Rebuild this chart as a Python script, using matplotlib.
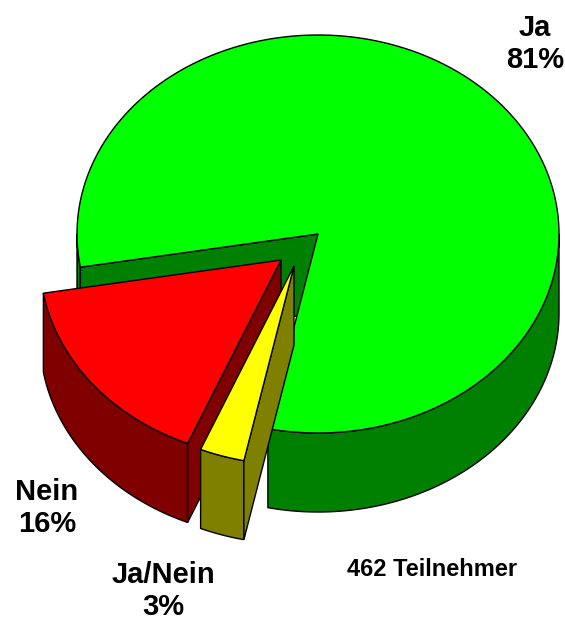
import numpy as np
import matplotlib
matplotlib.use('Agg')
from matplotlib import pyplot as plt
from matplotlib.patches import Polygon

# Данные
labels = ['Ja', 'Nein', 'Ja/Nein']
values = [81, 16, 3]
top_colors = ['#00ff00', '#ff0000', '#ffff00']
side_colors = ['#008000', '#800000', '#808000']
note = '462 Teilnehmer'

# Геометрия пирога в пикселях
cx, cy = 318, 234
rx, ry = 241, 199
depth = 79
start = 258
# смещение секторов
shifts = [(0, 0), (-37, 26), (-24, 32)]

fig = plt.figure(figsize=(5.65, 6.28), dpi=100)
ax = fig.add_axes([0, 0, 1, 1])
ax.set_xlim(0, 565)
ax.set_ylim(628, 0)
ax.axis('off')


def arc(a0, a1, x0, y0):
    t = np.radians(np.linspace(a0, a1, 300))
    return np.column_stack([x0 + rx * np.cos(t), y0 - ry * np.sin(t)])


def draw(a0, a1, shift, top, side):
    x0, y0 = cx + shift[0], cy + shift[1]
    down = np.array([0, depth])
    # внешняя стенка (только передняя часть)
    for w0, w1 in [(a0, a1), (a0 - 360, a1 - 360)]:
        lo, hi = max(w0, 180), min(w1, 360)
        if hi > lo:
            wall = arc(lo, hi, x0, y0)
            ax.add_patch(Polygon(np.vstack([wall, wall[::-1] + down]), fc=side, ec='black', lw=1, zorder=z[0]))
    # срез, обращенный к зрителю
    edge = arc(a1, a1, x0, y0)[0]
    if np.sin(np.radians(a1 + 90)) < 0:
        apex = np.array([x0, y0])
        face = np.array([apex, edge, edge + down, apex + down])
        ax.add_patch(Polygon(face, fc=side, ec='black', lw=1, zorder=z[0]))
    # верхняя грань
    pts = np.vstack([[x0, y0], arc(a0, a1, x0, y0)])
    ax.add_patch(Polygon(pts, fc=top, ec='black', lw=1, zorder=z[0] + 0.5))


sizes = np.array(values) / sum(values) * 360
angle = start
for i in range(len(values)):
    z = [i + 1]
    draw(angle, angle + sizes[i], shifts[i], top_colors[i], side_colors[i])
    angle = (angle + sizes[i]) % 360

font = {'family': ['Liberation Sans', 'DejaVu Sans'], 'weight': 'bold', 'ha': 'center', 'va': 'center', 'linespacing': 1.2}
ax.text(535, 44, f'{labels[0]}\n{values[0]}%', fontsize=21, **font)
ax.text(47, 508, f'{labels[1]}\n{values[1]}%', fontsize=21, **font)
ax.text(163, 591, f'{labels[2]}\n{values[2]}%', fontsize=21, **font)
ax.text(432, 569, note, fontsize=17, **font)

fig.savefig('out.png', dpi=100)
